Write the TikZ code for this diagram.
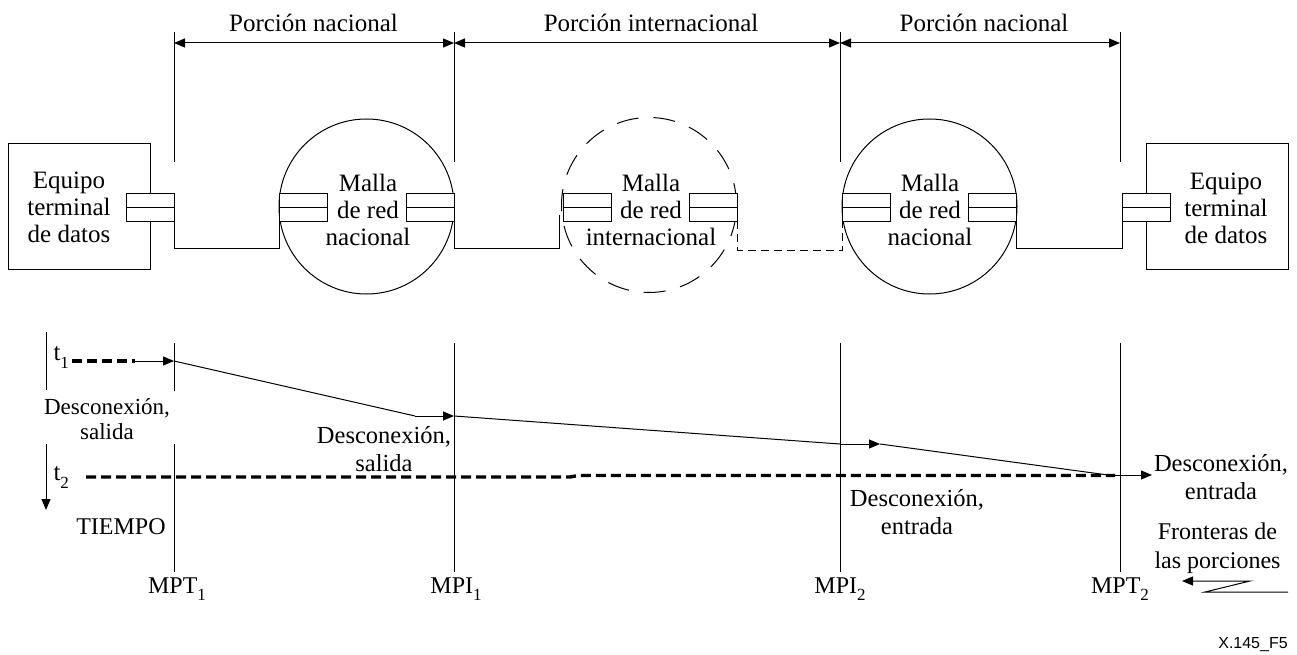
\documentclass[tikz,border=0pt]{standalone}
\usepackage{fontspec}
\setmainfont{Liberation Serif}
\newfontfamily\labelsans{Liberation Sans}
\usetikzlibrary{arrows.meta}
\newcommand{\mysub}[1]{\raisebox{-0.32em}{\fontsize{17}{17}\selectfont #1}}
\begin{document}
\begin{tikzpicture}[x=1pt,y=-1pt,
  every path/.style={line width=1pt},
  txt/.style={font=\fontsize{25}{27}\selectfont, align=center, inner sep=0pt},
  lbl/.style={font=\fontsize{24.5}{28}\selectfont, align=center, inner sep=0pt},
  arr/.style={-{Triangle[length=11pt,width=9pt]}},
  dbl/.style={{Triangle[length=11pt,width=9pt]}-{Triangle[length=11pt,width=9pt]}},
  conn/.style={draw, fill=white, minimum width=48pt, minimum height=28pt, inner sep=0pt, outer sep=0pt},
  terminal/.style={draw, minimum width=142pt, minimum height=125pt, inner sep=0pt, outer sep=0pt},
  mesh/.style={draw, circle, minimum size=175pt, inner sep=0pt, outer sep=0pt},
  thickdash/.style={line width=3.4pt, dash pattern=on 10pt off 5pt},
  wiredash/.style={dash pattern=on 8pt off 5pt},
  circdash/.style={dash pattern=on 22pt off 15pt}
]
\useasboundingbox (0,0) rectangle (1297,655);
% boundary coordinates
\coordinate (B1) at (174,0);
\coordinate (B2) at (454,0);
\coordinate (B3) at (840,0);
\coordinate (B4) at (1120,0);

% terminals and meshes
\node[terminal] (dte1) at (79,206.5) {};
\node[terminal] (dte2) at (1217,206.5) {};
\node[mesh] (m1) at (366.5,206.5) {};
\node[mesh, circdash] (m2) at (649,205) {};
\node[mesh] (m3) at (929.5,206.5) {};

% connectors
\node[conn] (c1) at (150,207) {};
\node[conn] (c2) at (303.5,207) {};
\node[conn] (c3) at (430,207) {};
\node[conn] (c4) at (587.5,207) {};
\node[conn] (c5) at (713.5,207) {};
\node[conn] (c6) at (866.5,207) {};
\node[conn] (c7) at (992.5,207) {};
\node[conn] (c8) at (1146.5,207) {};
\foreach \c in {c1,c2,c3,c4,c5,c6,c7,c8} \draw (\c.west) -- (\c.east);

% texts in boxes
\node[txt] (t-dte1) at (69,207) {Equipo\\terminal\\de datos};
\node[txt] (t-dte2) at (1226,208) {Equipo\\terminal\\de datos};
\node[txt] (t-m1) at (368,210) {Malla\\de red\\nacional};
\node[txt] (t-m2) at (651,210) {Malla\\de red\\internacional};
\node[txt] (t-m3) at (930,210) {Malla\\de red\\nacional};

% wires
\draw (c1.south east) -- ++(0,27) -| (c2.south west);
\draw (c3.south east) -- ++(0,27) -| (559,215);
\draw[wiredash] (c5.south east) -- ++(0,29) -| (c6.south west);
\draw (c7.south east) -- ++(0,27) -| (c8.south west);

% top dimension lines
\foreach \b in {B1,B2,B3,B4} \draw (\b) ++(0,32) -- ++(0,130);
\draw[dbl] (174,43) -- (454,43);
\draw[dbl] (454,43) -- (840,43);
\draw[dbl] (840,43) -- (1120,43);
\node[txt] (p1) at (313.5,23) {Porción nacional};
\node[txt] (p2) at (651,23) {Porción internacional};
\node[txt] (p3) at (984,23) {Porción nacional};

% bottom vertical lines
\draw (174,343) -- (174,391);
\draw (174,444) -- (174,572);
\draw (454,343) -- (454,572);
\draw (840,343) -- (840,572);
\draw (1120,343) -- (1120,572);

% time axis
\draw (46,332) -- (46,390);
\draw[arr] (46,444) -- (46,510);
\node[txt, anchor=west] (t1) at (53,357) {t\mysub{1}};
\node[txt, anchor=west] (t2) at (53,477) {t\mysub{2}};
\node[txt, font=\fontsize{24}{27}\selectfont] (tiempo) at (121,527) {TIEMPO};

% signal flow
\coordinate (s0) at (72,361);
\coordinate (s1) at (135,361);
\coordinate (s2) at (174,361);
\coordinate (s3) at (415,416);
\coordinate (s4) at (454,416);
\coordinate (s5) at (840,444);
\coordinate (s6) at (880,444);
\coordinate (s7) at (1108,475);
\coordinate (s8) at (1152,475);
\draw[thickdash] (s0) -- (s1);
\draw[arr] (s1) -- (s2);
\draw (s2) -- (s3);
\draw[arr] (s3) -- (s4);
\draw (s4) -- (s5);
\draw[arr] (s5) -- (s6);
\draw (s6) -- (s7);
\draw[arr] (s7) -- (s8);
\draw[thickdash] (86,477) -- (570,477) -- (578,475.5) -- (1115,475.5);

% labels
\node[lbl, font=\fontsize{23}{25}\selectfont] (d1) at (107,419) {Desconexión,\\salida};
\node[lbl] (d2) at (384,449) {Desconexión,\\salida};
\node[lbl] (d3) at (917,512) {Desconexión,\\entrada};
\node[lbl] (d4) at (1221,477) {Desconexión,\\entrada};
\node[lbl, font=\fontsize{24}{29}\selectfont] (fr) at (1217.5,548) {Fronteras de\\las porciones};
\node[txt, font=\fontsize{24}{27}\selectfont] (l1) at (177,589) {MPT\mysub{1}};
\node[txt, font=\fontsize{24}{27}\selectfont] (l2) at (456,589) {MPI\mysub{1}};
\node[txt, font=\fontsize{24}{27}\selectfont] (l3) at (840,589) {MPI\mysub{2}};
\node[txt, font=\fontsize{24}{27}\selectfont] (l4) at (1120,589) {MPT\mysub{2}};

% legend symbol
\coordinate (z0) at (1288,592);
\coordinate (z1) at (1205,592);
\coordinate (z2) at (1250,581);
\coordinate (z3) at (1182,581);
\draw[arr] (z0) -- (z1) -- (z2) -- (z3);

\node[font=\labelsans\fontsize{16}{16}\selectfont, inner sep=0pt] (fig) at (1253,645) {X.145\_F5};
\end{tikzpicture}
\end{document}
